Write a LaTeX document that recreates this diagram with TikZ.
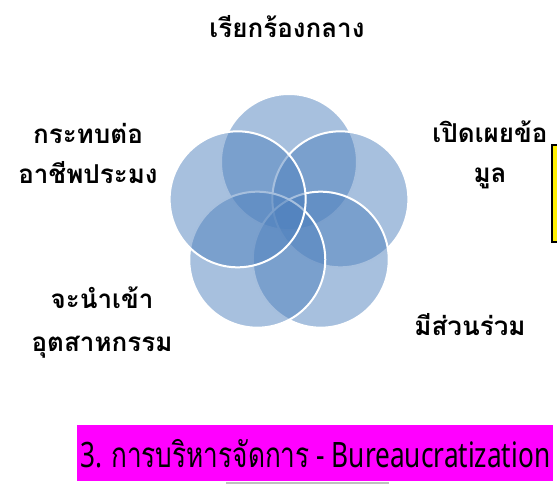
\documentclass[tikz,border=0pt]{standalone}
\usepackage{fontspec}
\setmainfont{Noto Sans}
\newfontfamily\thaifont[Script=Thai]{Loma}
\usetikzlibrary{positioning,calc}
\definecolor{petalblue}{RGB}{79,129,189}
\definecolor{barmagenta}{RGB}{255,0,255}
\definecolor{notebox}{RGB}{255,240,0}

\begin{document}
\begin{tikzpicture}[x=1pt, y=-1pt,
  petal/.style={circle, minimum size=136pt, inner sep=0pt, draw=white, line width=2pt, fill=petalblue, fill opacity=0.5},
  lbl/.style={font=\thaifont\bfseries\fontsize{26}{40}\selectfont, align=center, text=black, inner sep=0pt},
  bar/.style={fill=barmagenta, minimum width=476pt, minimum height=56pt, inner sep=0pt, text=black, anchor=north west, font=\fontsize{35}{40}\selectfont}
]
\useasboundingbox (0,0) rectangle (557,484);
\coordinate (c) at (289,216);
% five overlapping petals, drawn clockwise from the top
\foreach \a/\n in {-90/ptop,-18/pright,54/pbotright,126/pbotleft,198/pleft}
  \node[petal] (\n) at ($(c)+(\a:54)$) {};

\node[lbl] (ltop) at (287,27) {เรียกร้องกลาง};
\node[lbl] (lleft) at (88,153) {กระทบต่อ\\อาชีพประมง};
\node[lbl] (lright) at (490,155) {เปิดเผยข้อ\\มูล};
\node[lbl, font=\thaifont\bfseries\fontsize{26}{43}\selectfont] (lbotleft) at (102,323) {จะนำเข้า\\อุตสาหกรรม};
\node[lbl] (lbotright) at (470,325) {มีส่วนร่วม};

\draw[black, line width=1.5pt, fill=notebox] (552,145) rectangle (562,242);
\node[bar] (bar) at (77,425) {\resizebox{470pt}{\height}{3. {\thaifont การบริหารจัดการ} - Bureaucratization}};
\draw[black!25, line width=1.5pt] (226,483) -- (389,483);
\end{tikzpicture}
\end{document}
